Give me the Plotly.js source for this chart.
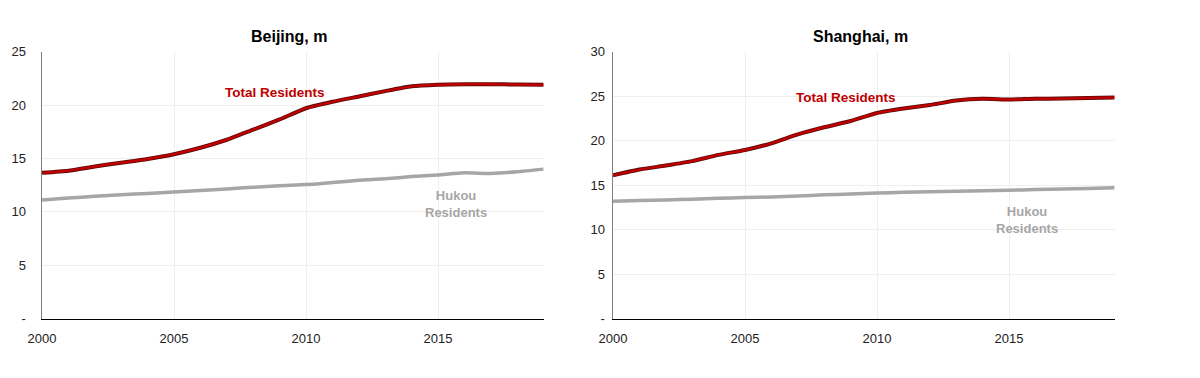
<!DOCTYPE html>
<html>
<head>
<meta charset="utf-8">
<script src="https://cdn.plot.ly/plotly-3.0.1.min.js"></script>
<style>html,body{margin:0;padding:0;background:#fff;}#chart{width:1200px;height:378px;}</style>
</head>
<body>
<div id="chart"></div>
<script>
const years = [2000,2001,2002,2003,2004,2005,2006,2007,2008,2009,2010,2011,2012,2013,2014,2015,2016,2017,2018,2019];
const beijingTotal = [13.65,13.85,14.25,14.6,14.95,15.4,16.0,16.75,17.7,18.65,19.7,20.3,20.8,21.3,21.75,21.9,21.95,21.95,21.92,21.9];
const beijingHukou = [11.1,11.3,11.45,11.6,11.72,11.85,12.0,12.15,12.3,12.45,12.55,12.75,12.95,13.1,13.3,13.45,13.65,13.6,13.75,14.0];
const shanghaiTotal = [16.1,16.75,17.2,17.7,18.4,18.95,19.7,20.7,21.5,22.2,23.1,23.6,24.0,24.5,24.7,24.62,24.7,24.72,24.8,24.85];
const shanghaiHukou = [13.2,13.27,13.34,13.42,13.52,13.6,13.68,13.79,13.91,14.0,14.12,14.19,14.27,14.32,14.38,14.43,14.5,14.56,14.62,14.7];
const xTicks = [2000,2005,2010,2015];
const yTicksBJ = [0,5,10,15,20,25];
const yTicksSH = [0,5,10,15,20,25,30];
const yLabelsBJ = ["-","5","10","15","20","25"];
const yLabelsSH = ["-","5","10","15","20","25","30"];
const titles = ["Beijing, m","Shanghai, m"];
const seriesNames = ["Total Residents","Hukou<br>Residents"];

const RED = "#c00000", DARK = "#5a0a0a", GREY = "#a6a6a6";
const font = "Liberation Sans, Arial, sans-serif";

function traces(total, hukou, xa, ya){
  return [
    {x: years, y: hukou, xaxis: xa, yaxis: ya, mode: "lines", line: {color: GREY, width: 3.5, shape: "spline", smoothing: 0.5}, hoverinfo: "skip"},
    {x: years, y: total, xaxis: xa, yaxis: ya, mode: "lines", line: {color: DARK, width: 4, shape: "spline", smoothing: 0.5}, hoverinfo: "skip"},
    {x: years, y: total, xaxis: xa, yaxis: ya, mode: "lines", line: {color: RED, width: 2.4, shape: "spline", smoothing: 0.5}, hoverinfo: "skip"}
  ];
}

const data = [].concat(traces(beijingTotal, beijingHukou, "x", "y"), traces(shanghaiTotal, shanghaiHukou, "x2", "y2"));

const ydom = [1 - 318.7/378, 1 - 51.6/378];
function xaxis(dom){
  return {domain: dom, range: [2000, 2019], tickvals: xTicks, ticktext: xTicks.map(String),
    showgrid: true, gridcolor: "#efefef", gridwidth: 1, zeroline: false,
    showline: true, linecolor: "#000000", linewidth: 1.5,
    ticks: "outside", ticklen: 7, tickcolor: "rgba(0,0,0,0)",
    tickfont: {family: font, size: 13, color: "#222"}, fixedrange: true};
}
function yaxis(range, vals, labels, anchor, len){
  return {domain: ydom, range: range, tickvals: vals, ticktext: labels, anchor: anchor,
    showgrid: true, gridcolor: "#efefef", gridwidth: 1, zeroline: false,
    showline: true, linecolor: "#808080", linewidth: 1.5,
    ticks: "outside", ticklen: len, tickcolor: "rgba(0,0,0,0)",
    tickfont: {family: font, size: 13, color: "#222"}, fixedrange: true};
}

const layout = {
  width: 1200, height: 378,
  margin: {l: 0, r: 0, t: 0, b: 0},
  paper_bgcolor: "#ffffff", plot_bgcolor: "#ffffff",
  showlegend: false,
  xaxis: Object.assign(xaxis([42/1200, 543.6/1200]), {anchor: "y"}),
  yaxis: yaxis([0, 25], yTicksBJ, yLabelsBJ, "x", 12),
  xaxis2: Object.assign(xaxis([613/1200, 1114.6/1200]), {anchor: "y2"}),
  yaxis2: yaxis([0, 30], yTicksSH, yLabelsSH, "x2", 4),
  annotations: [
    {text: "<b>" + titles[0] + "</b>", xref: "paper", yref: "paper", x: 289/1200, y: 1 - 36/378, showarrow: false, xanchor: "center", yanchor: "middle", font: {family: font, size: 16, color: "#000"}},
    {text: "<b>" + titles[1] + "</b>", xref: "paper", yref: "paper", x: 860/1200, y: 1 - 36/378, showarrow: false, xanchor: "center", yanchor: "middle", font: {family: font, size: 16, color: "#000"}},
    {text: "<b>" + seriesNames[0] + "</b>", xref: "x", yref: "y", x: 2008.84, y: 21.2, showarrow: false, font: {family: font, size: 13.5, color: RED}},
    {text: "<b>" + seriesNames[0] + "</b>", xref: "x2", yref: "y2", x: 2008.84, y: 24.9, showarrow: false, font: {family: font, size: 13.5, color: RED}},
    {text: "<b>" + seriesNames[1] + "</b>", xref: "x", yref: "y", x: 2015.67, y: 10.75, showarrow: false, font: {family: font, size: 13, color: GREY}},
    {text: "<b>" + seriesNames[1] + "</b>", xref: "x2", yref: "y2", x: 2015.67, y: 11.09, showarrow: false, font: {family: font, size: 13, color: GREY}}
  ]
};

Plotly.newPlot("chart", data, layout, {staticPlot: true, displayModeBar: false});
</script>
</body>
</html>
